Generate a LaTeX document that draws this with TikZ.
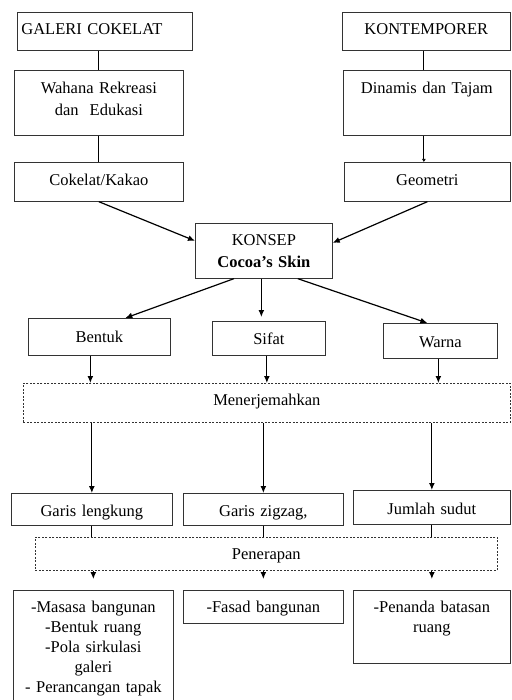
\documentclass[tikz,border=0pt]{standalone}
\usepackage{fontspec}
\setmainfont{Liberation Serif}
\usetikzlibrary{arrows.meta,positioning}
\tikzset{
	kotak/.style={
		draw=black!80,line width=0.7pt,inner sep=4pt,align=center,
		anchor=north west,text height=18pt},
	putus/.style={kotak,dash pattern=on 2pt off 1.5pt},
	garis/.style={line width=1.2pt},
	panah/.style={line width=1.2pt,-{Latex[length=7pt,width=6pt]}},
	kecil/.style={line width=1.2pt,-{Latex[length=3pt,width=4pt]}}
}

\begin{document}
\begin{tikzpicture}[x=1pt,y=-1pt,font=\fontsize{16.5}{20}\selectfont]
	\useasboundingbox (0,0) rectangle (511,700);
	% sumber konsep
	\node[kotak,align=left,text width=167pt,text depth=12pt] (gal) at (17,12) {GALERI COKELAT};
	\node[kotak,text width=160pt,text depth=12pt] (kont) at (342,12) {KONTEMPORER};
	\node[kotak,text width=161pt,text height=19.5pt,text depth=37.5pt] (wah) at (14,70) {Wahana Rekreasi\\[2pt]dan~~Edukasi};
	\node[kotak,text width=159pt,text height=19.5pt,text depth=37.5pt] (din) at (343,70) {Dinamis dan Tajam};
	\node[kotak,text width=161pt,text height=19.5pt,text depth=11.5pt] (cok) at (14,162) {Cokelat/Kakao};
	\node[kotak,text width=158pt,text height=19.5pt,text depth=11.5pt] (geo) at (344,162) {Geometri};
	\node[kotak,text width=129pt,text depth=29pt] (kon) at (195,223) {KONSEP\\[2pt]\textbf{Cocoa’s Skin}};
	% aspek
	\node[kotak,text width=134pt,text height=20.5pt,text depth=8.5pt] (ben) at (28,318) {Bentuk};
	\node[kotak,text width=105pt,text height=19.5pt,text depth=6.5pt] (sif) at (212,321) {Sifat};
	\node[kotak,text width=106pt,text height=20.5pt,text depth=6.5pt] (war) at (383,323) {Warna};
	\node[putus,text width=479pt,text depth=13pt] (men) at (23,383) {Menerjemahkan};
	\node[kotak,text width=153pt,text height=19.5pt,text depth=4.5pt] (gl) at (11,493) {Garis lengkung};
	\node[kotak,text width=152pt,text height=19.5pt,text depth=4.5pt] (gz) at (183,493) {Garis zigzag,};
	\node[kotak,text width=149pt,text height=20.5pt,text depth=5.5pt] (js) at (353,490) {Jumlah sudut};
	\node[putus,text width=454pt,text depth=7pt] (pen) at (35,537) {Penerapan};
	% penerapan
	\node[kotak,text width=152pt,text depth=94pt] (b1) at (13,590) {-Masasa bangunan\\-Bentuk ruang\\-Pola sirkulasi\\galeri\\- Perancangan tapak};
	\node[kotak,text width=152pt,text depth=7pt] (b2) at (183,590) {-Fasad bangunan};
	\node[kotak,text width=149pt,text depth=47pt] (b3) at (353,590) {-Penanda batasan\\ruang};

	\draw[garis] (wah.north) -- (wah.north |- gal.south);
	\draw[garis] (wah.south) -- (cok.north);
	\draw[garis] ([xshift=-3pt]din.north) -- ([xshift=-3pt]din.north |- kont.south);
	\draw[kecil] ([xshift=-3pt]din.south) -- ([xshift=-3pt]din.south |- geo.north);
	\draw[panah] (cok.south) -- ([yshift=10pt]kon.west);
	\draw[panah] (geo.south) -- ([yshift=8pt]kon.east);
	\draw[panah] ([xshift=-30pt]kon.south) -- ([xshift=26pt]ben.north);
	\draw[panah,shorten >=4pt] ([xshift=-2.5pt]kon.south) -- ([xshift=-2.5pt]kon.south |- sif.north);
	\draw[panah] ([xshift=34pt]kon.south) -- ([xshift=-13pt]war.north);
	\draw[panah] ([xshift=-9pt]ben.south) -- ([xshift=-9pt]ben.south |- men.north);
	\draw[panah] ([xshift=-2pt]sif.south) -- ([xshift=-2pt]sif.south |- men.north);
	\draw[panah] ([xshift=-2pt]war.south) -- ([xshift=-2pt]war.south |- men.north);
	\foreach \a/\b in {gl/b1,gz/b2,js/b3}{
		\draw[panah] (\a.north |- men.south) -- (\a.north);
		\draw[garis] (\a.south) -- (\a.south |- pen.north);
		\draw[panah,shorten >=11pt] (\b.north |- pen.south) -- (\b.north);
	}
\end{tikzpicture}
\end{document}
